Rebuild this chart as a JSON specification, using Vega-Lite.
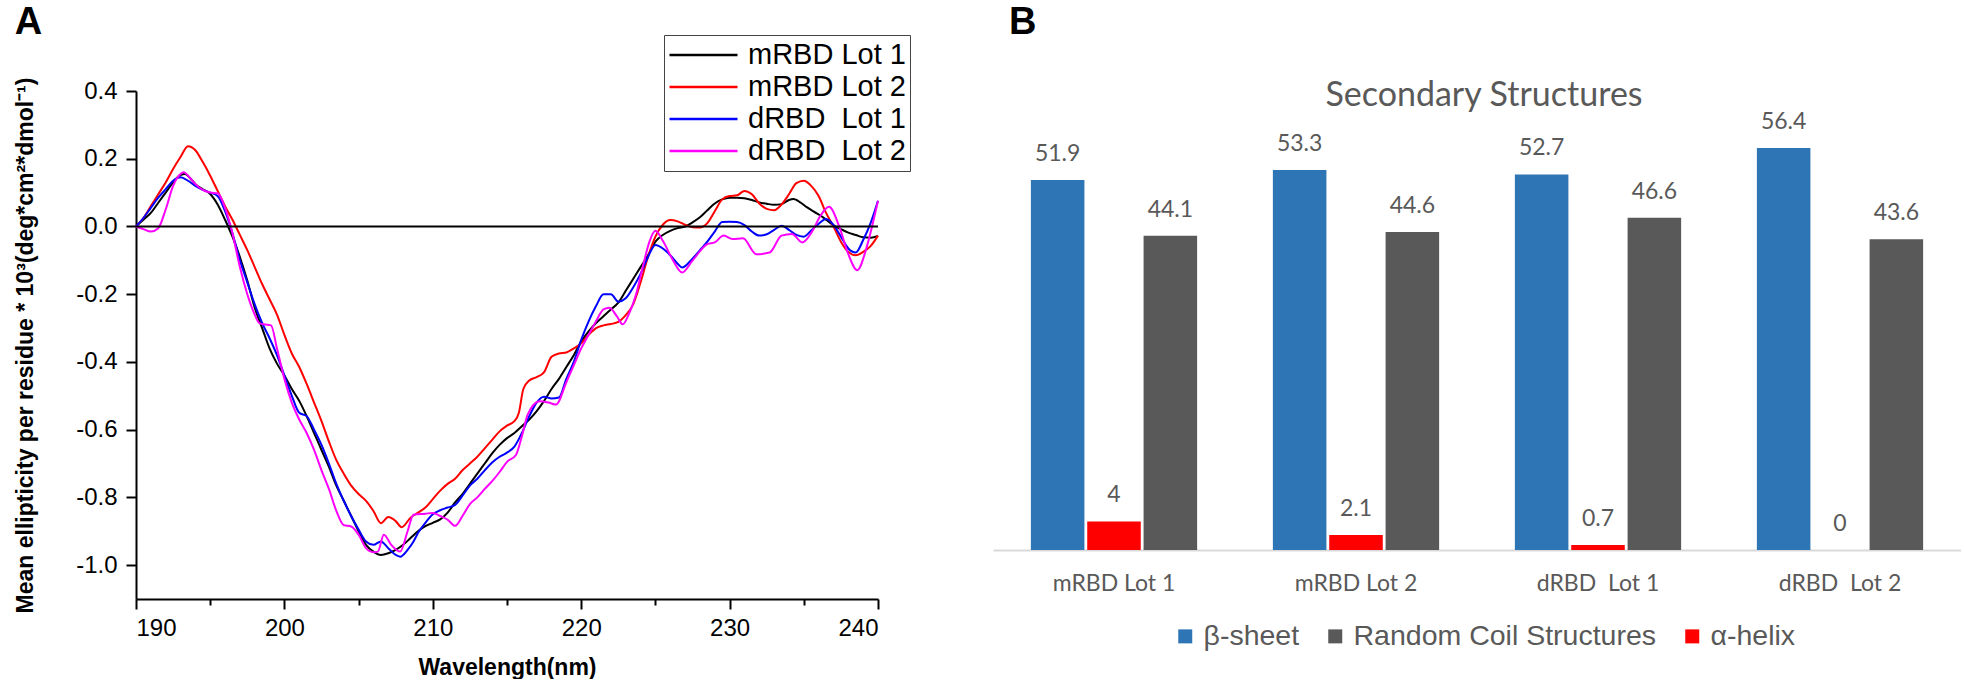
{
"$schema": "https://vega.github.io/schema/vega-lite/v6.json",
"background": "white",
"padding": {"left": 14, "top": 3, "right": 0, "bottom": 0},
"spacing": 82,
"config": {"view": {"stroke": null}, "font": "Liberation Sans"},
"resolve": {"scale": {"color": "independent"}, "legend": {"color": "independent"}},
"hconcat": [
{
"title": {"text": "A", "anchor": "start", "frame": "bounds", "fontSize": 38, "fontWeight": "bold", "font": "Liberation Sans", "color": "black", "offset": -7},
"width": 742,
"height": 508,
"layer": [
{
"data": {"values": [
{"lot":"mRBD Lot 1","nm":190,"val":0},{"lot":"mRBD Lot 1","nm":190.5,"val":0.02},{"lot":"mRBD Lot 1","nm":191,"val":0.04},{"lot":"mRBD Lot 1","nm":191.5,"val":0.07},{"lot":"mRBD Lot 1","nm":192,"val":0.1},{"lot":"mRBD Lot 1","nm":192.5,"val":0.13},{"lot":"mRBD Lot 1","nm":193,"val":0.152},{"lot":"mRBD Lot 1","nm":193.3,"val":0.155},{"lot":"mRBD Lot 1","nm":193.7,"val":0.14},{"lot":"mRBD Lot 1","nm":194,"val":0.125},{"lot":"mRBD Lot 1","nm":194.5,"val":0.11},{"lot":"mRBD Lot 1","nm":195,"val":0.096},{"lot":"mRBD Lot 1","nm":195.5,"val":0.065},{"lot":"mRBD Lot 1","nm":196,"val":0.02},{"lot":"mRBD Lot 1","nm":196.5,"val":-0.03},{"lot":"mRBD Lot 1","nm":197,"val":-0.09},{"lot":"mRBD Lot 1","nm":197.5,"val":-0.16},{"lot":"mRBD Lot 1","nm":198,"val":-0.24},{"lot":"mRBD Lot 1","nm":198.5,"val":-0.3},{"lot":"mRBD Lot 1","nm":199,"val":-0.36},{"lot":"mRBD Lot 1","nm":199.5,"val":-0.405},{"lot":"mRBD Lot 1","nm":200,"val":-0.44},{"lot":"mRBD Lot 1","nm":200.5,"val":-0.48},{"lot":"mRBD Lot 1","nm":201,"val":-0.515},{"lot":"mRBD Lot 1","nm":201.5,"val":-0.56},{"lot":"mRBD Lot 1","nm":202,"val":-0.61},{"lot":"mRBD Lot 1","nm":202.5,"val":-0.66},{"lot":"mRBD Lot 1","nm":203,"val":-0.71},{"lot":"mRBD Lot 1","nm":203.5,"val":-0.765},{"lot":"mRBD Lot 1","nm":204,"val":-0.81},{"lot":"mRBD Lot 1","nm":204.5,"val":-0.855},{"lot":"mRBD Lot 1","nm":205,"val":-0.9},{"lot":"mRBD Lot 1","nm":205.5,"val":-0.94},{"lot":"mRBD Lot 1","nm":206,"val":-0.96},{"lot":"mRBD Lot 1","nm":206.5,"val":-0.97},{"lot":"mRBD Lot 1","nm":207,"val":-0.965},{"lot":"mRBD Lot 1","nm":207.5,"val":-0.955},{"lot":"mRBD Lot 1","nm":208,"val":-0.94},{"lot":"mRBD Lot 1","nm":208.5,"val":-0.92},{"lot":"mRBD Lot 1","nm":209,"val":-0.9},{"lot":"mRBD Lot 1","nm":209.5,"val":-0.885},{"lot":"mRBD Lot 1","nm":210,"val":-0.875},{"lot":"mRBD Lot 1","nm":210.5,"val":-0.865},{"lot":"mRBD Lot 1","nm":211,"val":-0.845},{"lot":"mRBD Lot 1","nm":211.5,"val":-0.815},{"lot":"mRBD Lot 1","nm":212,"val":-0.79},{"lot":"mRBD Lot 1","nm":212.5,"val":-0.76},{"lot":"mRBD Lot 1","nm":213,"val":-0.73},{"lot":"mRBD Lot 1","nm":213.5,"val":-0.7},{"lot":"mRBD Lot 1","nm":214,"val":-0.67},{"lot":"mRBD Lot 1","nm":214.5,"val":-0.645},{"lot":"mRBD Lot 1","nm":215,"val":-0.625},{"lot":"mRBD Lot 1","nm":215.5,"val":-0.61},{"lot":"mRBD Lot 1","nm":216,"val":-0.59},{"lot":"mRBD Lot 1","nm":216.5,"val":-0.57},{"lot":"mRBD Lot 1","nm":217,"val":-0.545},{"lot":"mRBD Lot 1","nm":217.5,"val":-0.515},{"lot":"mRBD Lot 1","nm":218,"val":-0.48},{"lot":"mRBD Lot 1","nm":218.5,"val":-0.45},{"lot":"mRBD Lot 1","nm":219,"val":-0.415},{"lot":"mRBD Lot 1","nm":219.5,"val":-0.38},{"lot":"mRBD Lot 1","nm":220,"val":-0.34},{"lot":"mRBD Lot 1","nm":220.5,"val":-0.31},{"lot":"mRBD Lot 1","nm":221,"val":-0.285},{"lot":"mRBD Lot 1","nm":221.5,"val":-0.265},{"lot":"mRBD Lot 1","nm":222,"val":-0.245},{"lot":"mRBD Lot 1","nm":222.5,"val":-0.225},{"lot":"mRBD Lot 1","nm":223,"val":-0.19},{"lot":"mRBD Lot 1","nm":223.5,"val":-0.155},{"lot":"mRBD Lot 1","nm":224,"val":-0.12},{"lot":"mRBD Lot 1","nm":224.5,"val":-0.085},{"lot":"mRBD Lot 1","nm":225,"val":-0.045},{"lot":"mRBD Lot 1","nm":225.5,"val":-0.025},{"lot":"mRBD Lot 1","nm":226,"val":-0.013},{"lot":"mRBD Lot 1","nm":226.5,"val":-0.005},{"lot":"mRBD Lot 1","nm":227,"val":0},{"lot":"mRBD Lot 1","nm":227.5,"val":0.012},{"lot":"mRBD Lot 1","nm":228,"val":0.027},{"lot":"mRBD Lot 1","nm":228.5,"val":0.048},{"lot":"mRBD Lot 1","nm":229,"val":0.068},{"lot":"mRBD Lot 1","nm":229.5,"val":0.08},{"lot":"mRBD Lot 1","nm":230,"val":0.085},{"lot":"mRBD Lot 1","nm":230.5,"val":0.085},{"lot":"mRBD Lot 1","nm":231,"val":0.083},{"lot":"mRBD Lot 1","nm":231.5,"val":0.078},{"lot":"mRBD Lot 1","nm":232,"val":0.071},{"lot":"mRBD Lot 1","nm":232.5,"val":0.067},{"lot":"mRBD Lot 1","nm":233,"val":0.064},{"lot":"mRBD Lot 1","nm":233.5,"val":0.066},{"lot":"mRBD Lot 1","nm":234,"val":0.078},{"lot":"mRBD Lot 1","nm":234.3,"val":0.081},{"lot":"mRBD Lot 1","nm":234.8,"val":0.07},{"lot":"mRBD Lot 1","nm":235.2,"val":0.057},{"lot":"mRBD Lot 1","nm":235.7,"val":0.043},{"lot":"mRBD Lot 1","nm":236.3,"val":0.027},{"lot":"mRBD Lot 1","nm":237,"val":0.003},{"lot":"mRBD Lot 1","nm":237.5,"val":-0.008},{"lot":"mRBD Lot 1","nm":238,"val":-0.018},{"lot":"mRBD Lot 1","nm":238.5,"val":-0.025},{"lot":"mRBD Lot 1","nm":239,"val":-0.032},{"lot":"mRBD Lot 1","nm":239.5,"val":-0.033},{"lot":"mRBD Lot 1","nm":240,"val":-0.028},
{"lot":"mRBD Lot 2","nm":190,"val":0},{"lot":"mRBD Lot 2","nm":190.5,"val":0.025},{"lot":"mRBD Lot 2","nm":191,"val":0.06},{"lot":"mRBD Lot 2","nm":191.5,"val":0.095},{"lot":"mRBD Lot 2","nm":192,"val":0.13},{"lot":"mRBD Lot 2","nm":192.5,"val":0.17},{"lot":"mRBD Lot 2","nm":193,"val":0.205},{"lot":"mRBD Lot 2","nm":193.5,"val":0.237},{"lot":"mRBD Lot 2","nm":194,"val":0.225},{"lot":"mRBD Lot 2","nm":194.5,"val":0.19},{"lot":"mRBD Lot 2","nm":195,"val":0.15},{"lot":"mRBD Lot 2","nm":195.5,"val":0.105},{"lot":"mRBD Lot 2","nm":196,"val":0.06},{"lot":"mRBD Lot 2","nm":196.5,"val":0.02},{"lot":"mRBD Lot 2","nm":197,"val":-0.025},{"lot":"mRBD Lot 2","nm":197.5,"val":-0.07},{"lot":"mRBD Lot 2","nm":198,"val":-0.12},{"lot":"mRBD Lot 2","nm":198.5,"val":-0.17},{"lot":"mRBD Lot 2","nm":199,"val":-0.215},{"lot":"mRBD Lot 2","nm":199.5,"val":-0.26},{"lot":"mRBD Lot 2","nm":200,"val":-0.32},{"lot":"mRBD Lot 2","nm":200.5,"val":-0.375},{"lot":"mRBD Lot 2","nm":201,"val":-0.415},{"lot":"mRBD Lot 2","nm":201.5,"val":-0.465},{"lot":"mRBD Lot 2","nm":202,"val":-0.52},{"lot":"mRBD Lot 2","nm":202.5,"val":-0.575},{"lot":"mRBD Lot 2","nm":203,"val":-0.635},{"lot":"mRBD Lot 2","nm":203.5,"val":-0.69},{"lot":"mRBD Lot 2","nm":204,"val":-0.73},{"lot":"mRBD Lot 2","nm":204.5,"val":-0.765},{"lot":"mRBD Lot 2","nm":205,"val":-0.79},{"lot":"mRBD Lot 2","nm":205.5,"val":-0.81},{"lot":"mRBD Lot 2","nm":206,"val":-0.84},{"lot":"mRBD Lot 2","nm":206.5,"val":-0.876},{"lot":"mRBD Lot 2","nm":207,"val":-0.858},{"lot":"mRBD Lot 2","nm":207.5,"val":-0.87},{"lot":"mRBD Lot 2","nm":207.9,"val":-0.888},{"lot":"mRBD Lot 2","nm":208.5,"val":-0.86},{"lot":"mRBD Lot 2","nm":209,"val":-0.845},{"lot":"mRBD Lot 2","nm":209.5,"val":-0.83},{"lot":"mRBD Lot 2","nm":210,"val":-0.805},{"lot":"mRBD Lot 2","nm":210.5,"val":-0.78},{"lot":"mRBD Lot 2","nm":211,"val":-0.76},{"lot":"mRBD Lot 2","nm":211.5,"val":-0.745},{"lot":"mRBD Lot 2","nm":212,"val":-0.72},{"lot":"mRBD Lot 2","nm":212.5,"val":-0.7},{"lot":"mRBD Lot 2","nm":213,"val":-0.68},{"lot":"mRBD Lot 2","nm":213.5,"val":-0.655},{"lot":"mRBD Lot 2","nm":214,"val":-0.63},{"lot":"mRBD Lot 2","nm":214.5,"val":-0.605},{"lot":"mRBD Lot 2","nm":215,"val":-0.588},{"lot":"mRBD Lot 2","nm":215.5,"val":-0.575},{"lot":"mRBD Lot 2","nm":215.8,"val":-0.55},{"lot":"mRBD Lot 2","nm":216.1,"val":-0.48},{"lot":"mRBD Lot 2","nm":216.5,"val":-0.455},{"lot":"mRBD Lot 2","nm":217,"val":-0.445},{"lot":"mRBD Lot 2","nm":217.5,"val":-0.43},{"lot":"mRBD Lot 2","nm":218,"val":-0.385},{"lot":"mRBD Lot 2","nm":218.5,"val":-0.375},{"lot":"mRBD Lot 2","nm":219,"val":-0.372},{"lot":"mRBD Lot 2","nm":219.5,"val":-0.36},{"lot":"mRBD Lot 2","nm":220,"val":-0.345},{"lot":"mRBD Lot 2","nm":220.5,"val":-0.32},{"lot":"mRBD Lot 2","nm":221,"val":-0.3},{"lot":"mRBD Lot 2","nm":221.5,"val":-0.292},{"lot":"mRBD Lot 2","nm":222,"val":-0.288},{"lot":"mRBD Lot 2","nm":222.5,"val":-0.282},{"lot":"mRBD Lot 2","nm":223,"val":-0.262},{"lot":"mRBD Lot 2","nm":223.5,"val":-0.23},{"lot":"mRBD Lot 2","nm":224,"val":-0.165},{"lot":"mRBD Lot 2","nm":224.5,"val":-0.09},{"lot":"mRBD Lot 2","nm":225,"val":-0.03},{"lot":"mRBD Lot 2","nm":225.5,"val":0.005},{"lot":"mRBD Lot 2","nm":226,"val":0.019},{"lot":"mRBD Lot 2","nm":226.5,"val":0.015},{"lot":"mRBD Lot 2","nm":227,"val":0.005},{"lot":"mRBD Lot 2","nm":227.5,"val":-0.002},{"lot":"mRBD Lot 2","nm":228,"val":-0.003},{"lot":"mRBD Lot 2","nm":228.5,"val":0.01},{"lot":"mRBD Lot 2","nm":229,"val":0.045},{"lot":"mRBD Lot 2","nm":229.5,"val":0.08},{"lot":"mRBD Lot 2","nm":230,"val":0.09},{"lot":"mRBD Lot 2","nm":230.5,"val":0.092},{"lot":"mRBD Lot 2","nm":231,"val":0.105},{"lot":"mRBD Lot 2","nm":231.5,"val":0.095},{"lot":"mRBD Lot 2","nm":232,"val":0.068},{"lot":"mRBD Lot 2","nm":232.5,"val":0.052},{"lot":"mRBD Lot 2","nm":233,"val":0.048},{"lot":"mRBD Lot 2","nm":233.5,"val":0.065},{"lot":"mRBD Lot 2","nm":234,"val":0.095},{"lot":"mRBD Lot 2","nm":234.5,"val":0.128},{"lot":"mRBD Lot 2","nm":235,"val":0.135},{"lot":"mRBD Lot 2","nm":235.5,"val":0.12},{"lot":"mRBD Lot 2","nm":236,"val":0.09},{"lot":"mRBD Lot 2","nm":236.5,"val":0.04},{"lot":"mRBD Lot 2","nm":237,"val":0},{"lot":"mRBD Lot 2","nm":237.5,"val":-0.045},{"lot":"mRBD Lot 2","nm":238,"val":-0.075},{"lot":"mRBD Lot 2","nm":238.5,"val":-0.085},{"lot":"mRBD Lot 2","nm":239,"val":-0.075},{"lot":"mRBD Lot 2","nm":239.5,"val":-0.058},{"lot":"mRBD Lot 2","nm":240,"val":-0.027},
{"lot":"dRBD\u00a0 Lot 1","nm":190,"val":0},{"lot":"dRBD\u00a0 Lot 1","nm":190.5,"val":0.025},{"lot":"dRBD\u00a0 Lot 1","nm":191,"val":0.055},{"lot":"dRBD\u00a0 Lot 1","nm":191.5,"val":0.085},{"lot":"dRBD\u00a0 Lot 1","nm":192,"val":0.11},{"lot":"dRBD\u00a0 Lot 1","nm":192.5,"val":0.135},{"lot":"dRBD\u00a0 Lot 1","nm":193,"val":0.145},{"lot":"dRBD\u00a0 Lot 1","nm":193.5,"val":0.135},{"lot":"dRBD\u00a0 Lot 1","nm":194,"val":0.12},{"lot":"dRBD\u00a0 Lot 1","nm":194.5,"val":0.108},{"lot":"dRBD\u00a0 Lot 1","nm":195,"val":0.1},{"lot":"dRBD\u00a0 Lot 1","nm":195.5,"val":0.09},{"lot":"dRBD\u00a0 Lot 1","nm":196,"val":0.045},{"lot":"dRBD\u00a0 Lot 1","nm":196.5,"val":-0.02},{"lot":"dRBD\u00a0 Lot 1","nm":197,"val":-0.1},{"lot":"dRBD\u00a0 Lot 1","nm":197.5,"val":-0.165},{"lot":"dRBD\u00a0 Lot 1","nm":198,"val":-0.23},{"lot":"dRBD\u00a0 Lot 1","nm":198.5,"val":-0.285},{"lot":"dRBD\u00a0 Lot 1","nm":199,"val":-0.33},{"lot":"dRBD\u00a0 Lot 1","nm":199.5,"val":-0.38},{"lot":"dRBD\u00a0 Lot 1","nm":200,"val":-0.44},{"lot":"dRBD\u00a0 Lot 1","nm":200.5,"val":-0.5},{"lot":"dRBD\u00a0 Lot 1","nm":201,"val":-0.55},{"lot":"dRBD\u00a0 Lot 1","nm":201.5,"val":-0.56},{"lot":"dRBD\u00a0 Lot 1","nm":202,"val":-0.6},{"lot":"dRBD\u00a0 Lot 1","nm":202.5,"val":-0.645},{"lot":"dRBD\u00a0 Lot 1","nm":203,"val":-0.7},{"lot":"dRBD\u00a0 Lot 1","nm":203.5,"val":-0.76},{"lot":"dRBD\u00a0 Lot 1","nm":204,"val":-0.81},{"lot":"dRBD\u00a0 Lot 1","nm":204.5,"val":-0.855},{"lot":"dRBD\u00a0 Lot 1","nm":205,"val":-0.895},{"lot":"dRBD\u00a0 Lot 1","nm":205.5,"val":-0.93},{"lot":"dRBD\u00a0 Lot 1","nm":206,"val":-0.94},{"lot":"dRBD\u00a0 Lot 1","nm":206.5,"val":-0.93},{"lot":"dRBD\u00a0 Lot 1","nm":207,"val":-0.95},{"lot":"dRBD\u00a0 Lot 1","nm":207.5,"val":-0.97},{"lot":"dRBD\u00a0 Lot 1","nm":207.8,"val":-0.975},{"lot":"dRBD\u00a0 Lot 1","nm":208.3,"val":-0.955},{"lot":"dRBD\u00a0 Lot 1","nm":208.7,"val":-0.93},{"lot":"dRBD\u00a0 Lot 1","nm":209,"val":-0.905},{"lot":"dRBD\u00a0 Lot 1","nm":209.5,"val":-0.875},{"lot":"dRBD\u00a0 Lot 1","nm":210,"val":-0.85},{"lot":"dRBD\u00a0 Lot 1","nm":210.5,"val":-0.838},{"lot":"dRBD\u00a0 Lot 1","nm":211,"val":-0.83},{"lot":"dRBD\u00a0 Lot 1","nm":211.5,"val":-0.822},{"lot":"dRBD\u00a0 Lot 1","nm":212,"val":-0.795},{"lot":"dRBD\u00a0 Lot 1","nm":212.5,"val":-0.765},{"lot":"dRBD\u00a0 Lot 1","nm":213,"val":-0.745},{"lot":"dRBD\u00a0 Lot 1","nm":213.5,"val":-0.72},{"lot":"dRBD\u00a0 Lot 1","nm":214,"val":-0.697},{"lot":"dRBD\u00a0 Lot 1","nm":214.5,"val":-0.68},{"lot":"dRBD\u00a0 Lot 1","nm":215,"val":-0.668},{"lot":"dRBD\u00a0 Lot 1","nm":215.5,"val":-0.65},{"lot":"dRBD\u00a0 Lot 1","nm":216,"val":-0.61},{"lot":"dRBD\u00a0 Lot 1","nm":216.5,"val":-0.56},{"lot":"dRBD\u00a0 Lot 1","nm":217,"val":-0.52},{"lot":"dRBD\u00a0 Lot 1","nm":217.5,"val":-0.503},{"lot":"dRBD\u00a0 Lot 1","nm":218,"val":-0.508},{"lot":"dRBD\u00a0 Lot 1","nm":218.5,"val":-0.505},{"lot":"dRBD\u00a0 Lot 1","nm":219,"val":-0.45},{"lot":"dRBD\u00a0 Lot 1","nm":219.5,"val":-0.4},{"lot":"dRBD\u00a0 Lot 1","nm":220,"val":-0.335},{"lot":"dRBD\u00a0 Lot 1","nm":220.5,"val":-0.28},{"lot":"dRBD\u00a0 Lot 1","nm":221,"val":-0.235},{"lot":"dRBD\u00a0 Lot 1","nm":221.5,"val":-0.2},{"lot":"dRBD\u00a0 Lot 1","nm":222,"val":-0.2},{"lot":"dRBD\u00a0 Lot 1","nm":222.5,"val":-0.222},{"lot":"dRBD\u00a0 Lot 1","nm":223,"val":-0.212},{"lot":"dRBD\u00a0 Lot 1","nm":223.5,"val":-0.18},{"lot":"dRBD\u00a0 Lot 1","nm":224,"val":-0.14},{"lot":"dRBD\u00a0 Lot 1","nm":224.5,"val":-0.09},{"lot":"dRBD\u00a0 Lot 1","nm":225,"val":-0.055},{"lot":"dRBD\u00a0 Lot 1","nm":225.5,"val":-0.065},{"lot":"dRBD\u00a0 Lot 1","nm":226,"val":-0.085},{"lot":"dRBD\u00a0 Lot 1","nm":226.5,"val":-0.11},{"lot":"dRBD\u00a0 Lot 1","nm":226.8,"val":-0.121},{"lot":"dRBD\u00a0 Lot 1","nm":227.5,"val":-0.095},{"lot":"dRBD\u00a0 Lot 1","nm":228,"val":-0.07},{"lot":"dRBD\u00a0 Lot 1","nm":228.5,"val":-0.045},{"lot":"dRBD\u00a0 Lot 1","nm":229,"val":-0.015},{"lot":"dRBD\u00a0 Lot 1","nm":229.5,"val":0.013},{"lot":"dRBD\u00a0 Lot 1","nm":230,"val":0.014},{"lot":"dRBD\u00a0 Lot 1","nm":230.5,"val":0.013},{"lot":"dRBD\u00a0 Lot 1","nm":231,"val":0.004},{"lot":"dRBD\u00a0 Lot 1","nm":231.5,"val":-0.015},{"lot":"dRBD\u00a0 Lot 1","nm":232,"val":-0.027},{"lot":"dRBD\u00a0 Lot 1","nm":232.5,"val":-0.023},{"lot":"dRBD\u00a0 Lot 1","nm":233,"val":-0.01},{"lot":"dRBD\u00a0 Lot 1","nm":233.5,"val":0.002},{"lot":"dRBD\u00a0 Lot 1","nm":234,"val":-0.01},{"lot":"dRBD\u00a0 Lot 1","nm":234.5,"val":-0.025},{"lot":"dRBD\u00a0 Lot 1","nm":235,"val":-0.03},{"lot":"dRBD\u00a0 Lot 1","nm":235.5,"val":-0.012},{"lot":"dRBD\u00a0 Lot 1","nm":236,"val":0.008},{"lot":"dRBD\u00a0 Lot 1","nm":236.5,"val":0.022},{"lot":"dRBD\u00a0 Lot 1","nm":237,"val":0.005},{"lot":"dRBD\u00a0 Lot 1","nm":237.5,"val":-0.03},{"lot":"dRBD\u00a0 Lot 1","nm":238,"val":-0.065},{"lot":"dRBD\u00a0 Lot 1","nm":238.5,"val":-0.077},{"lot":"dRBD\u00a0 Lot 1","nm":239,"val":-0.04},{"lot":"dRBD\u00a0 Lot 1","nm":239.5,"val":0.01},{"lot":"dRBD\u00a0 Lot 1","nm":240,"val":0.076},
{"lot":"dRBD\u00a0 Lot 2","nm":190,"val":0},{"lot":"dRBD\u00a0 Lot 2","nm":190.5,"val":-0.008},{"lot":"dRBD\u00a0 Lot 2","nm":191,"val":-0.015},{"lot":"dRBD\u00a0 Lot 2","nm":191.5,"val":-0.005},{"lot":"dRBD\u00a0 Lot 2","nm":192,"val":0.05},{"lot":"dRBD\u00a0 Lot 2","nm":192.5,"val":0.12},{"lot":"dRBD\u00a0 Lot 2","nm":193,"val":0.155},{"lot":"dRBD\u00a0 Lot 2","nm":193.2,"val":0.16},{"lot":"dRBD\u00a0 Lot 2","nm":193.7,"val":0.14},{"lot":"dRBD\u00a0 Lot 2","nm":194,"val":0.125},{"lot":"dRBD\u00a0 Lot 2","nm":194.5,"val":0.108},{"lot":"dRBD\u00a0 Lot 2","nm":195,"val":0.1},{"lot":"dRBD\u00a0 Lot 2","nm":195.5,"val":0.098},{"lot":"dRBD\u00a0 Lot 2","nm":196,"val":0.055},{"lot":"dRBD\u00a0 Lot 2","nm":196.5,"val":-0.02},{"lot":"dRBD\u00a0 Lot 2","nm":197,"val":-0.12},{"lot":"dRBD\u00a0 Lot 2","nm":197.5,"val":-0.2},{"lot":"dRBD\u00a0 Lot 2","nm":198,"val":-0.26},{"lot":"dRBD\u00a0 Lot 2","nm":198.3,"val":-0.285},{"lot":"dRBD\u00a0 Lot 2","nm":198.6,"val":-0.289},{"lot":"dRBD\u00a0 Lot 2","nm":199.1,"val":-0.292},{"lot":"dRBD\u00a0 Lot 2","nm":199.5,"val":-0.36},{"lot":"dRBD\u00a0 Lot 2","nm":200,"val":-0.45},{"lot":"dRBD\u00a0 Lot 2","nm":200.5,"val":-0.52},{"lot":"dRBD\u00a0 Lot 2","nm":201,"val":-0.57},{"lot":"dRBD\u00a0 Lot 2","nm":201.5,"val":-0.61},{"lot":"dRBD\u00a0 Lot 2","nm":202,"val":-0.66},{"lot":"dRBD\u00a0 Lot 2","nm":202.5,"val":-0.72},{"lot":"dRBD\u00a0 Lot 2","nm":203,"val":-0.775},{"lot":"dRBD\u00a0 Lot 2","nm":203.5,"val":-0.84},{"lot":"dRBD\u00a0 Lot 2","nm":204,"val":-0.882},{"lot":"dRBD\u00a0 Lot 2","nm":204.5,"val":-0.886},{"lot":"dRBD\u00a0 Lot 2","nm":205,"val":-0.91},{"lot":"dRBD\u00a0 Lot 2","nm":205.5,"val":-0.95},{"lot":"dRBD\u00a0 Lot 2","nm":206,"val":-0.962},{"lot":"dRBD\u00a0 Lot 2","nm":206.3,"val":-0.96},{"lot":"dRBD\u00a0 Lot 2","nm":206.7,"val":-0.91},{"lot":"dRBD\u00a0 Lot 2","nm":207.2,"val":-0.94},{"lot":"dRBD\u00a0 Lot 2","nm":207.8,"val":-0.96},{"lot":"dRBD\u00a0 Lot 2","nm":208.3,"val":-0.9},{"lot":"dRBD\u00a0 Lot 2","nm":208.7,"val":-0.851},{"lot":"dRBD\u00a0 Lot 2","nm":209.5,"val":-0.848},{"lot":"dRBD\u00a0 Lot 2","nm":210,"val":-0.846},{"lot":"dRBD\u00a0 Lot 2","nm":210.5,"val":-0.855},{"lot":"dRBD\u00a0 Lot 2","nm":211,"val":-0.866},{"lot":"dRBD\u00a0 Lot 2","nm":211.5,"val":-0.884},{"lot":"dRBD\u00a0 Lot 2","nm":212,"val":-0.855},{"lot":"dRBD\u00a0 Lot 2","nm":212.5,"val":-0.82},{"lot":"dRBD\u00a0 Lot 2","nm":213,"val":-0.8},{"lot":"dRBD\u00a0 Lot 2","nm":213.5,"val":-0.775},{"lot":"dRBD\u00a0 Lot 2","nm":214,"val":-0.752},{"lot":"dRBD\u00a0 Lot 2","nm":214.5,"val":-0.725},{"lot":"dRBD\u00a0 Lot 2","nm":215,"val":-0.695},{"lot":"dRBD\u00a0 Lot 2","nm":215.6,"val":-0.675},{"lot":"dRBD\u00a0 Lot 2","nm":216,"val":-0.62},{"lot":"dRBD\u00a0 Lot 2","nm":216.4,"val":-0.555},{"lot":"dRBD\u00a0 Lot 2","nm":217.2,"val":-0.516},{"lot":"dRBD\u00a0 Lot 2","nm":217.8,"val":-0.52},{"lot":"dRBD\u00a0 Lot 2","nm":218.3,"val":-0.526},{"lot":"dRBD\u00a0 Lot 2","nm":219,"val":-0.46},{"lot":"dRBD\u00a0 Lot 2","nm":219.5,"val":-0.41},{"lot":"dRBD\u00a0 Lot 2","nm":220,"val":-0.36},{"lot":"dRBD\u00a0 Lot 2","nm":220.5,"val":-0.32},{"lot":"dRBD\u00a0 Lot 2","nm":221,"val":-0.28},{"lot":"dRBD\u00a0 Lot 2","nm":221.5,"val":-0.245},{"lot":"dRBD\u00a0 Lot 2","nm":221.9,"val":-0.24},{"lot":"dRBD\u00a0 Lot 2","nm":222.4,"val":-0.265},{"lot":"dRBD\u00a0 Lot 2","nm":222.8,"val":-0.289},{"lot":"dRBD\u00a0 Lot 2","nm":223.2,"val":-0.26},{"lot":"dRBD\u00a0 Lot 2","nm":223.7,"val":-0.2},{"lot":"dRBD\u00a0 Lot 2","nm":224.2,"val":-0.11},{"lot":"dRBD\u00a0 Lot 2","nm":224.6,"val":-0.045},{"lot":"dRBD\u00a0 Lot 2","nm":225,"val":-0.013},{"lot":"dRBD\u00a0 Lot 2","nm":225.5,"val":-0.042},{"lot":"dRBD\u00a0 Lot 2","nm":226.2,"val":-0.101},{"lot":"dRBD\u00a0 Lot 2","nm":226.8,"val":-0.136},{"lot":"dRBD\u00a0 Lot 2","nm":227.5,"val":-0.101},{"lot":"dRBD\u00a0 Lot 2","nm":228.5,"val":-0.052},{"lot":"dRBD\u00a0 Lot 2","nm":229,"val":-0.047},{"lot":"dRBD\u00a0 Lot 2","nm":229.6,"val":-0.027},{"lot":"dRBD\u00a0 Lot 2","nm":230.2,"val":-0.037},{"lot":"dRBD\u00a0 Lot 2","nm":230.9,"val":-0.035},{"lot":"dRBD\u00a0 Lot 2","nm":231.8,"val":-0.082},{"lot":"dRBD\u00a0 Lot 2","nm":232.7,"val":-0.077},{"lot":"dRBD\u00a0 Lot 2","nm":233.5,"val":-0.027},{"lot":"dRBD\u00a0 Lot 2","nm":234.2,"val":-0.022},{"lot":"dRBD\u00a0 Lot 2","nm":234.9,"val":-0.047},{"lot":"dRBD\u00a0 Lot 2","nm":235.6,"val":-0.012},{"lot":"dRBD\u00a0 Lot 2","nm":236.1,"val":0.03},{"lot":"dRBD\u00a0 Lot 2","nm":236.7,"val":0.058},{"lot":"dRBD\u00a0 Lot 2","nm":237.4,"val":-0.002},{"lot":"dRBD\u00a0 Lot 2","nm":238,"val":-0.082},{"lot":"dRBD\u00a0 Lot 2","nm":238.6,"val":-0.129},{"lot":"dRBD\u00a0 Lot 2","nm":239.2,"val":-0.067},{"lot":"dRBD\u00a0 Lot 2","nm":239.6,"val":0.0},{"lot":"dRBD\u00a0 Lot 2","nm":240,"val":0.076}
]},
"mark": {"type": "line", "strokeWidth": 2, "interpolate": "monotone"},
"encoding": {
"x": {"field": "nm", "type": "quantitative", "scale": {"domain": [190, 240], "nice": false},
 "axis": {"title": "Wavelength(nm)", "values": [190,195,200,205,210,215,220,225,230,235,240], "labelExpr": "datum.value % 10 === 0 ? datum.label : ''",
  "tickSize": {"condition": {"test": "datum.value % 10 === 0", "value": 10}, "value": 6},
  "grid": false, "domainColor": "black", "domainWidth": 2, "tickColor": "black", "tickWidth": 2,
  "labelFontSize": 24, "labelColor": "black", "labelPadding": 7, "labelFont": "Liberation Sans",
  "titleFontSize": 23, "titleFontWeight": "bold", "titleColor": "black", "titlePadding": 16, "titleFont": "Liberation Sans"}},
"y": {"field": "val", "type": "quantitative", "scale": {"domain": [-1.1, 0.4], "nice": false, "zero": false},
 "axis": {"title": "Mean ellipticity per residue * 10³(deg*cm²*dmol⁻¹)", "values": [-1,-0.9,-0.8,-0.7,-0.6,-0.5,-0.4,-0.3,-0.2,-0.1,0,0.1,0.2,0.3,0.4],
  "labelExpr": "abs(round(datum.value*10)) % 2 === 0 ? replace(format(datum.value, '.1f'), '\u2212', '-') : ''",
  "tickSize": {"condition": {"test": "abs(round(datum.value*10)) % 2 === 0", "value": 10}, "value": 6},
  "grid": false, "domainColor": "black", "domainWidth": 2, "tickColor": "black", "tickWidth": 2,
  "labelFontSize": 24, "labelColor": "black", "labelPadding": 9, "labelFont": "Liberation Sans",
  "titleFontSize": 23, "titleFontWeight": "bold", "titleColor": "black", "titlePadding": 38, "titleFont": "Liberation Sans"}},
"color": {"field": "lot", "type": "nominal", "sort": ["mRBD Lot 1","mRBD Lot 2","dRBD\u00a0 Lot 1","dRBD\u00a0 Lot 2"],
 "scale": {"domain": ["mRBD Lot 1","mRBD Lot 2","dRBD\u00a0 Lot 1","dRBD\u00a0 Lot 2"], "range": ["#000000","#FF0000","#0000FF","#FF00FF"]},
 "legend": {"title": null, "orient": "none", "legendX": 528, "legendY": -56, "symbolType": "stroke", "symbolSize": 4624, "symbolStrokeWidth": 2.5,
  "clipHeight": 32, "rowPadding": 0, "padding": 4, "strokeColor": "#444444", "fillColor": "white", "labelOffset": 9,
  "labelFont": "Liberation Sans", "labelFontSize": 29, "labelColor": "black", "labelLimit": 400}}
}
},
{
"data": {"values": [{}]},
"mark": {"type": "rule", "color": "black", "strokeWidth": 2},
"encoding": {"y": {"datum": 0}}
}
]
},
{
"title": {"text": "B", "anchor": "start", "frame": "bounds", "fontSize": 38, "fontWeight": "bold", "font": "Liberation Sans", "color": "black", "offset": 37, "dx": 16},
"vconcat": [
{
"title": {"text": "Secondary Structures", "font": "Lato", "fontSize": 34, "fontWeight": "normal", "color": "#595959", "offset": -22, "dx": 7},
"width": 968,
"height": 459,
"data": {"values": [
{"cat":"mRBD Lot 1","st":"β-sheet","pct":51.9},{"cat":"mRBD Lot 1","st":"α-helix","pct":4},{"cat":"mRBD Lot 1","st":"Random Coil Structures","pct":44.1},
{"cat":"mRBD Lot 2","st":"β-sheet","pct":53.3},{"cat":"mRBD Lot 2","st":"α-helix","pct":2.1},{"cat":"mRBD Lot 2","st":"Random Coil Structures","pct":44.6},
{"cat":"dRBD\u00a0 Lot 1","st":"β-sheet","pct":52.7},{"cat":"dRBD\u00a0 Lot 1","st":"α-helix","pct":0.7},{"cat":"dRBD\u00a0 Lot 1","st":"Random Coil Structures","pct":46.6},
{"cat":"dRBD\u00a0 Lot 2","st":"β-sheet","pct":56.4},{"cat":"dRBD\u00a0 Lot 2","st":"α-helix","pct":0},{"cat":"dRBD\u00a0 Lot 2","st":"Random Coil Structures","pct":43.6}
]},
"encoding": {
"x": {"field": "cat", "type": "nominal", "sort": ["mRBD Lot 1","mRBD Lot 2","dRBD\u00a0 Lot 1","dRBD\u00a0 Lot 2"], "scale": {"paddingInner": 0.313, "paddingOuter": 0.1565},
 "axis": {"title": null, "labelAngle": 0, "domainColor": "#D9D9D9", "domainWidth": 2, "ticks": false, "tickSize": 0, "labelFont": "Lato", "labelFontSize": 23, "labelColor": "#595959", "labelPadding": 22}},
"xOffset": {"field": "st", "type": "nominal", "sort": ["β-sheet","α-helix","Random Coil Structures"], "scale": {"paddingInner": 0.05}},
"y": {"field": "pct", "type": "quantitative", "scale": {"domain": [0, 64.4], "nice": false}, "axis": null}
},
"layer": [
{"mark": {"type": "bar"},
 "encoding": {"color": {"field": "st", "type": "nominal",
  "scale": {"domain": ["β-sheet","Random Coil Structures","α-helix"], "range": ["#2E75B6","#595959","#FF0000"]},
  "legend": {"title": null, "orient": "none", "legendX": 178, "legendY": 531, "direction": "horizontal", "symbolType": "square", "symbolSize": 196, "symbolStrokeWidth": 0,
   "labelFont": "Liberation Sans", "labelFontSize": 28.5, "labelColor": "#595959", "columnPadding": 21, "labelOffset": 4, "labelLimit": 400}}}},
{"mark": {"type": "text", "baseline": "alphabetic", "dy": -19, "font": "Lato", "fontSize": 23, "color": "#595959"},
 "encoding": {"text": {"field": "pct", "type": "quantitative"}}}
]
}
]
}
]
}
